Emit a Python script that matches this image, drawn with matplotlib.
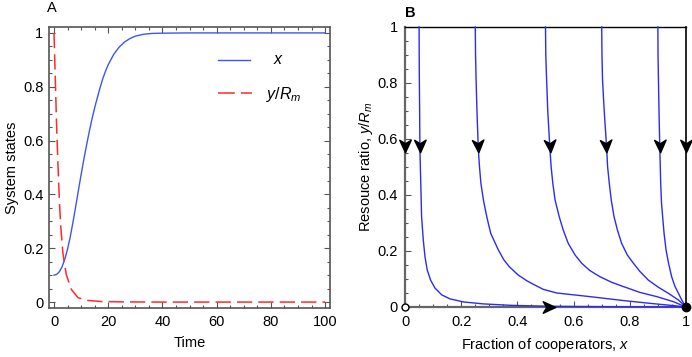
import numpy as np
import matplotlib
matplotlib.use("Agg")
import matplotlib.pyplot as plt
from matplotlib.markers import MarkerStyle
from matplotlib.path import Path
from matplotlib.transforms import Affine2D
from matplotlib.ticker import MultipleLocator, FuncFormatter

plt.rcParams['font.family'] = ['Liberation Sans', 'DejaVu Sans']
plt.rcParams['mathtext.fontset'] = 'custom'
plt.rcParams['mathtext.it'] = 'Liberation Sans:italic'
plt.rcParams['mathtext.rm'] = 'Liberation Sans'

# ---------------- Panel A data ----------------
t_x = [0, 1, 2, 3, 4, 5, 6, 7, 8, 9, 10, 11, 12, 13, 14, 15, 16, 17, 18, 19,
       20, 22, 24, 26, 28, 30, 33, 36, 40, 50, 100]
x_vals = [0.100, 0.103, 0.113, 0.132, 0.160, 0.197, 0.243, 0.297, 0.355, 0.415,
          0.474, 0.530, 0.583, 0.633, 0.680, 0.722, 0.760, 0.797, 0.830, 0.858,
          0.882, 0.920, 0.947, 0.966, 0.979, 0.988, 0.995, 0.998, 0.999, 1.0, 1.0]

t_y = [0, 0.5, 1.0, 1.5, 2.0, 2.5, 3.3, 4.5, 6.4, 8.9, 12.5, 17.5, 27, 40, 100]
y_vals = [1.0, 0.82, 0.64, 0.50, 0.37, 0.28, 0.18, 0.103, 0.047, 0.016,
          0.006, 0.002, 0.0005, 0.0, 0.0]

# ---------------- Panel B data (trajectories) ----------------
traj_x = [
    [0.05, 0.0505, 0.051, 0.052, 0.053, 0.056, 0.059, 0.065, 0.071, 0.079, 0.091,
     0.107, 0.131, 0.160, 0.208, 0.279, 0.374, 0.516, 0.70, 0.85, 1.0],
    [0.25, 0.251, 0.253, 0.256, 0.261, 0.265, 0.270, 0.279, 0.291, 0.305, 0.332,
     0.352, 0.371, 0.403, 0.433, 0.457, 0.492, 0.540, 0.658, 0.777, 0.872, 0.955, 1.0],
    [0.5, 0.501, 0.504, 0.508, 0.516, 0.520, 0.526, 0.534, 0.549, 0.563, 0.581,
     0.605, 0.629, 0.658, 0.694, 0.736, 0.777, 0.836, 0.896, 0.955, 1.0],
    [0.7, 0.701, 0.703, 0.709, 0.718, 0.721, 0.727, 0.734, 0.744, 0.756, 0.771,
     0.791, 0.813, 0.836, 0.866, 0.901, 0.937, 0.973, 1.0],
    [0.9, 0.9005, 0.902, 0.904, 0.907, 0.910, 0.913, 0.917, 0.922, 0.929, 0.938,
     0.949, 0.961, 0.973, 0.986, 1.0],
]
traj_y = [
    [1.0, 0.9, 0.81, 0.7, 0.561, 0.442, 0.322, 0.239, 0.180, 0.132, 0.096,
     0.067, 0.043, 0.029, 0.018, 0.011, 0.006, 0.0025, 0.0012, 0.0005, 0.0],
    [1.0, 0.9, 0.81, 0.7, 0.561, 0.501, 0.442, 0.382, 0.322, 0.263, 0.204,
     0.168, 0.144, 0.114, 0.094, 0.081, 0.063, 0.050, 0.037, 0.023, 0.013, 0.005, 0.0],
    [1.0, 0.9, 0.81, 0.7, 0.561, 0.501, 0.442, 0.382, 0.322, 0.275, 0.227,
     0.186, 0.156, 0.130, 0.108, 0.088, 0.073, 0.052, 0.037, 0.019, 0.0],
    [1.0, 0.9, 0.81, 0.7, 0.561, 0.501, 0.442, 0.382, 0.322, 0.275, 0.227,
     0.186, 0.156, 0.127, 0.096, 0.071, 0.049, 0.025, 0.0],
    [1.0, 0.9, 0.81, 0.7, 0.561, 0.442, 0.370, 0.322, 0.263, 0.204, 0.156,
     0.108, 0.073, 0.049, 0.023, 0.0],
]
# invariant edges: x=0 (down), x=1 (down), y=0 (right)
edge_x = [[0.0, 0.0], [1.0, 1.0], [0.0, 1.0]]
edge_y = [[1.0, 0.0], [1.0, 0.0], [0.0, 0.0]]
arrow_level = 0.575      # y at which arrows sit on downward trajectories
bottom_arrow_x = 0.513   # x of arrow on y=0 edge
unstable_pt = (0.0, 0.0)
stable_pt = (1.0, 0.0)

BLUE_A = '#3d55f5'
BLUE_B = '#2b2bf5'
RED = '#ff2a2a'
GRAY = '#555555'

fig = plt.figure(figsize=(6.92, 3.57), dpi=100)
axA = fig.add_axes([0.0708, 0.1373, 0.4061, 0.7871])
axB = fig.add_axes([0.5853, 0.1401, 0.4060, 0.7843])
fmt = FuncFormatter(lambda v, p: f"{v:g}")

# ---------------- Panel A ----------------
axA.plot(t_x, x_vals, color=BLUE_A, lw=1.0)
axA.plot(t_y, y_vals, color=RED, lw=1.1, dashes=(10, 4.0))
axA.set_xlim(-1.85, 101.8)
axA.set_ylim(-0.022, 1.022)
axA.xaxis.set_major_locator(MultipleLocator(20))
axA.xaxis.set_minor_locator(MultipleLocator(5))
axA.yaxis.set_major_locator(MultipleLocator(0.2))
axA.yaxis.set_minor_locator(MultipleLocator(0.05))
axA.xaxis.set_major_formatter(fmt)
axA.yaxis.set_major_formatter(fmt)
axA.tick_params(which='both', direction='in', top=True, right=True, color=GRAY,
                labelsize=10.5, width=0.8)
axA.tick_params(which='major', length=4)
axA.tick_params(which='minor', length=2)
axA.tick_params(axis='x', pad=5)
axA.tick_params(axis='y', pad=4)
for s in axA.spines.values():
    s.set_color(GRAY)
    s.set_linewidth(1.2)
axA.set_xlabel('Time', fontsize=10.5, labelpad=5)
axA.set_ylabel('System states', fontsize=10.5, labelpad=3)

# legend (drawn like the reference)
axA.plot([0.601, 0.715], [0.883, 0.883], transform=axA.transAxes, color=BLUE_A, lw=1.0)
axA.plot([0.601, 0.722], [0.765, 0.765], transform=axA.transAxes, color=RED, lw=1.1,
         dashes=(11, 4.0))
axA.text(0.817, 0.883, '$x$', transform=axA.transAxes, fontsize=11.5, ha='center', va='center')
axA.text(0.835, 0.760, '$y/R_m$', transform=axA.transAxes, fontsize=11.5, ha='center', va='center')
fig.text(47 / 692, 1 - 8 / 357, 'A', fontsize=10.5, ha='left', va='center')

# ---------------- Panel B ----------------
for xs, ys in zip(traj_x, traj_y):
    axB.plot(xs, ys, color=BLUE_B, lw=1.0, clip_on=False, zorder=3)

axB.set_xlim(0, 1)
axB.set_ylim(0, 1)
axB.xaxis.set_major_locator(MultipleLocator(0.2))
axB.xaxis.set_minor_locator(MultipleLocator(0.05))
axB.yaxis.set_major_locator(MultipleLocator(0.2))
axB.yaxis.set_minor_locator(MultipleLocator(0.05))
axB.xaxis.set_major_formatter(fmt)
axB.yaxis.set_major_formatter(fmt)
axB.tick_params(which='both', direction='in', color=GRAY, labelsize=10.5, width=0.8)
axB.tick_params(which='major', length=4)
axB.tick_params(which='minor', length=2)
axB.tick_params(axis='x', pad=6)
axB.tick_params(axis='y', pad=5)
axB.spines['left'].set_color('#666666')
axB.spines['left'].set_linewidth(1.6)
axB.spines['bottom'].set_color('#666666')
axB.spines['bottom'].set_linewidth(1.6)
axB.spines['top'].set_color('black')
axB.spines['top'].set_linewidth(1.0)
axB.spines['right'].set_color('black')
axB.spines['right'].set_linewidth(1.2)
axB.set_xlabel('Fraction of cooperators, $x$', fontsize=10.5, labelpad=5)
axB.set_ylabel('Resouce ratio, $y/R_m$', fontsize=10.5, labelpad=2)
fig.text(405 / 692, 1 - 13 / 357, 'B', fontsize=10.5, ha='left', va='center', fontweight='bold')

# arrowhead marker (pointing right, notched)
arrow_path = Path([(0.5, 0.0), (-0.5, 0.46), (-0.22, 0.0), (-0.5, -0.46), (0.5, 0.0)],
                  [Path.MOVETO, Path.LINETO, Path.LINETO, Path.LINETO, Path.CLOSEPOLY])


def arrow_marker(angle_deg):
    return MarkerStyle(arrow_path, transform=Affine2D().rotate_deg(angle_deg))


fig.canvas.draw()
disp = axB.transData
for xs, ys in zip(traj_x + edge_x[:2], traj_y + edge_y[:2]):
    ys_r = np.asarray(ys)[::-1]
    xs_r = np.asarray(xs)[::-1]
    xa = np.interp(arrow_level, ys_r, xs_r)
    xb = np.interp(arrow_level - 0.03, ys_r, xs_r)
    p1 = disp.transform((xa, arrow_level))
    p2 = disp.transform((xb, arrow_level - 0.03))
    ang = np.degrees(np.arctan2(p2[1] - p1[1], p2[0] - p1[0]))
    axB.plot([xa], [arrow_level], marker=arrow_marker(ang), markersize=9,
             color='black', linestyle='none', clip_on=False, zorder=5)
axB.plot([bottom_arrow_x], [edge_y[2][0]], marker=arrow_marker(0), markersize=9,
         color='black', linestyle='none', clip_on=False, zorder=5)

axB.plot([unstable_pt[0]], [unstable_pt[1]], marker='o', markersize=5, mfc='white',
         mec='black', mew=1.0, clip_on=False, zorder=6)
axB.plot([stable_pt[0]], [stable_pt[1]], marker='o', markersize=6, color='black',
         clip_on=False, zorder=6)

fig.savefig('out.png', dpi=100)
